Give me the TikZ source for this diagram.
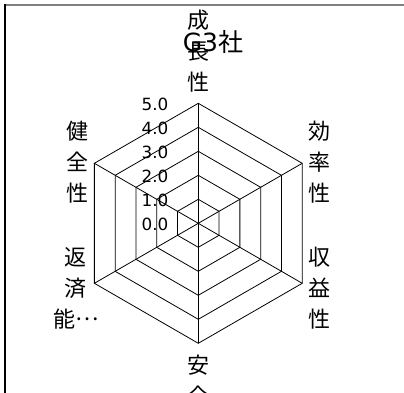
\documentclass[tikz,border=0pt]{standalone}
\usepackage{fontspec}
\setmainfont{DejaVu Sans}
\newfontfamily\cjk{Noto Sans CJK JP}
\begin{document}
\begin{tikzpicture}[x=1pt,y=-1pt,
  grid/.style={draw=black,line width=0.8pt},
  ax/.style={font=\cjk\fontsize{22}{31}\selectfont,align=center,inner sep=0pt},
  tick/.style={font=\fontsize{16.8}{18}\selectfont,anchor=east,inner sep=0pt}]
\useasboundingbox (0,0) rectangle (404,393);
\fill[white] (0,0) rectangle (404,393);
\draw[draw=gray,line width=1.6pt] (4,4.8) -- (404,4.8);
\draw[draw=black,line width=1.6pt] (4.8,4) -- (4.8,393);
\begin{scope}[shift={(198.3,223.3)}]
  \foreach \r in {24,48,72,96,120}
    \draw[grid] (90:\r) -- (30:\r) -- (-30:\r) -- (-90:\r) -- (-150:\r) -- (150:\r) -- cycle;
  \coordinate (c) at (0,0);
  \foreach \a in {90,30,-30,-90,-150,150}
    \draw[grid] (c) -- (\a:120);
\end{scope}
\foreach \k in {0,...,5}
  \node[tick] (t\k) at (168.5,224.5-24*\k) {\k.0};
\node[font=\fontsize{25}{28}\selectfont,inner sep=0pt] (title) at (213,42) {G3{\cjk 社}};
\node[ax] (top) at (198,51) {成\\長\\性};
\node[ax] (ul) at (77,162) {健\\全\\性};
\node[ax] (ll) at (76,288) {返\\済\\能\raisebox{0.32em}{…}};
\node[ax] (ur) at (319,162) {効\\率\\性};
\node[ax] (lr) at (319,288) {収\\益\\性};
\node[ax] (bot) at (198,380.5) {安\\全};
\end{tikzpicture}
\end{document}
